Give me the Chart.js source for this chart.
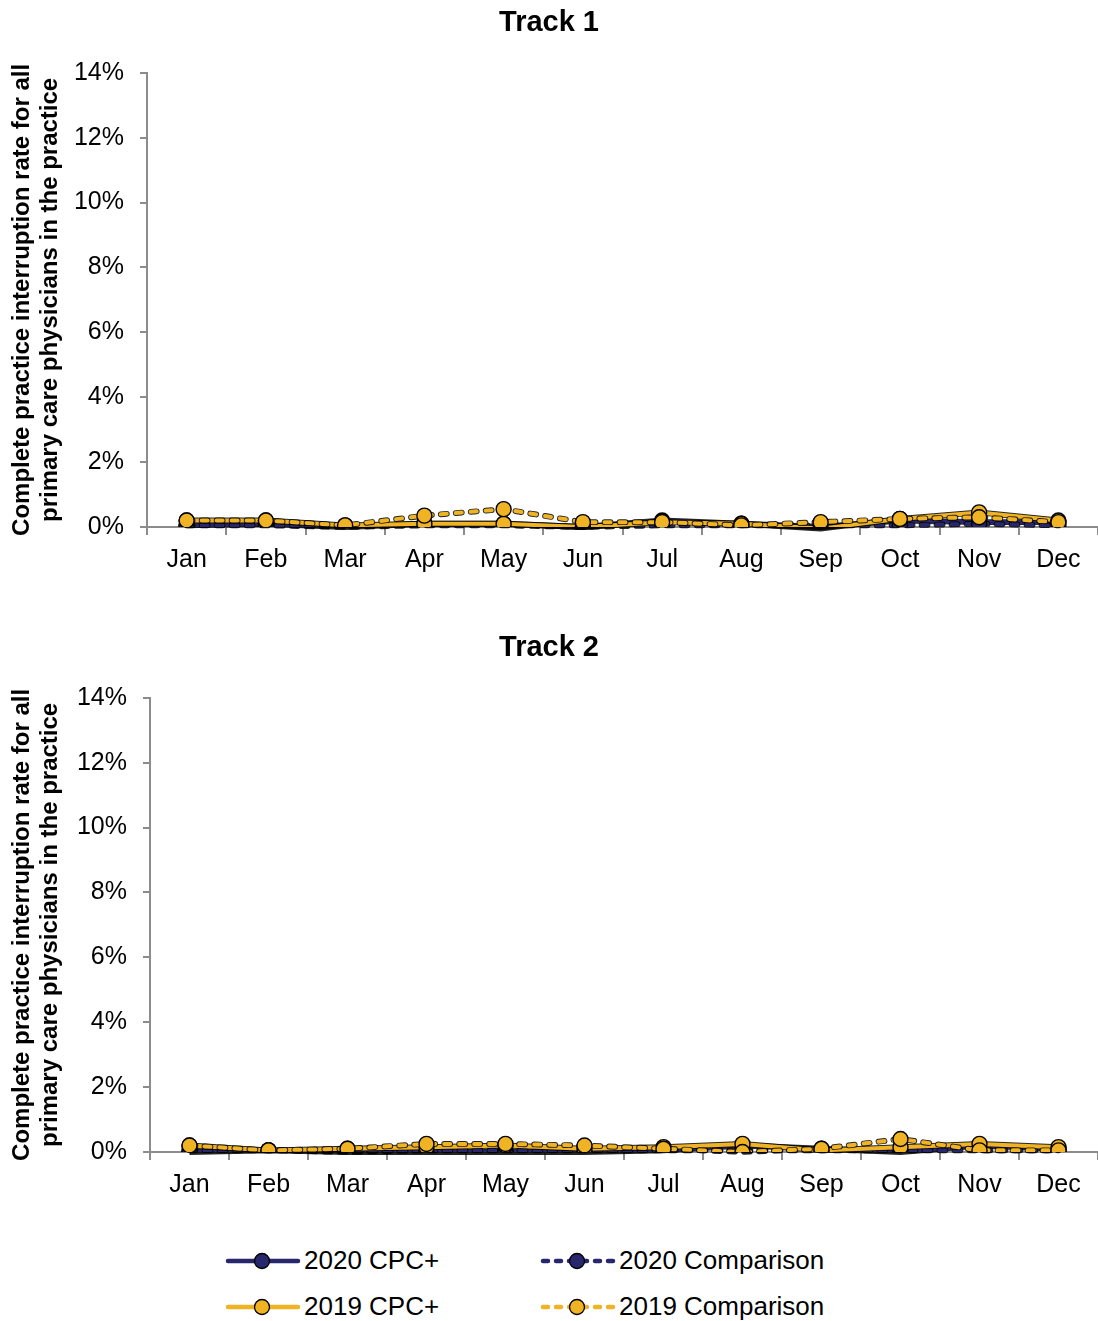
<!DOCTYPE html>
<html>
<head>
<meta charset="utf-8">
<script src="https://cdn.jsdelivr.net/npm/chart.js@4/dist/chart.umd.min.js"></script>
<style>
  body { margin: 0; background: #fff; font-family: "Liberation Sans", Arial, sans-serif; }
  #wrap { position: relative; width: 1098px; height: 1321px; }
  .box { position: absolute; left: 0; width: 1098px; height: 600px; }
  #legend { position: absolute; left: 0; top: 1245px; width: 1098px; }
  .item { position: absolute; display: flex; align-items: center; font-size: 26px; color: #000; }
  .item svg { margin-right: 2px; }
</style>
</head>
<body>
<div id="wrap">
  <div class="box" style="top:0"><canvas id="track1"></canvas></div>
  <div class="box" style="top:625px"><canvas id="track2"></canvas></div>
  <div id="legend"></div>
</div>
<script>
const months = ["Jan", "Feb", "Mar", "Apr", "May", "Jun", "Jul", "Aug", "Sep", "Oct", "Nov", "Dec"];
const yTicks = [0, 2, 4, 6, 8, 10, 12, 14];

// Track 1 (percent)
const t1Cpc2020 = [0.05, 0.1, 0.0, 0.1, 0.1, 0.0, 0.2, 0.1, 0.0, 0.2, 0.15, 0.15];
const t1Comp2020 = [0.05, 0.05, 0.0, 0.05, 0.05, 0.0, 0.05, 0.05, 0.05, 0.05, 0.1, 0.05];
const t1Cpc2019 = [0.2, 0.2, 0.05, 0.1, 0.1, 0.0, 0.15, 0.1, -0.05, 0.25, 0.45, 0.2];
const t1Comp2019 = [0.2, 0.2, 0.05, 0.35, 0.55, 0.15, 0.15, 0.05, 0.15, 0.25, 0.3, 0.15];

// Track 2 (percent)
const t2Cpc2020 = [0.0, 0.05, 0.0, 0.0, 0.0, 0.0, 0.05, 0.2, 0.1, 0.0, 0.2, 0.1];
const t2Comp2020 = [0.05, 0.05, 0.0, 0.05, 0.05, 0.05, 0.05, 0.05, 0.05, 0.05, 0.05, 0.05];
const t2Cpc2019 = [0.2, 0.05, 0.1, 0.15, 0.2, 0.1, 0.15, 0.25, 0.05, 0.15, 0.25, 0.15];
const t2Comp2019 = [0.2, 0.05, 0.1, 0.25, 0.25, 0.2, 0.1, 0.0, 0.1, 0.4, 0.05, 0.05];

const NAVY = "#28266c";
const GOLD = "#f0b323";
const FONT = "'Liberation Sans', Arial, sans-serif";

// dark outline under every line, like the original export
const outlinePlugin = {
    id: "outline",
    beforeDatasetDraw(chart, args) {
        const line = args.meta.dataset;
        if (!line) return;
        const o = line.options;
        const oldColor = o.borderColor, oldWidth = o.borderWidth;
        o.borderColor = "rgba(0,0,0,0.85)";
        o.borderWidth = oldWidth + 1.8;
        line.draw(chart.ctx, chart.chartArea);
        o.borderColor = oldColor;
        o.borderWidth = oldWidth;
    }
};

function series(label, data, color, dashed) {
    return {
        label: label,
        data: data,
        borderColor: color,
        backgroundColor: color,
        borderWidth: 4,
        borderDash: dashed ? [6, 9] : [],
        borderCapStyle: dashed ? "round" : "butt",
        pointRadius: 7.5,
        pointBorderColor: "#000",
        pointBorderWidth: 1.4,
        pointBackgroundColor: color,
        tension: 0
    };
}

function makeChart(id, title, cpc20, comp20, cpc19, comp19, axisLeft) {
    const ctx = document.getElementById(id).getContext("2d");
    return new Chart(ctx, {
        type: "line",
        plugins: [outlinePlugin],
        data: {
            labels: months,
            // first dataset is drawn on top
            datasets: [
                series("2019 Comparison", comp19, GOLD, true),
                series("2019 CPC+", cpc19, GOLD, false),
                series("2020 Comparison", comp20, NAVY, true),
                series("2020 CPC+", cpc20, NAVY, false)
            ]
        },
        options: {
            responsive: false,
            animation: false,
            layout: { autoPadding: false, padding: { left: 0, right: 0, top: 0, bottom: 0 } },
            plugins: {
                legend: { display: false },
                tooltip: { enabled: false },
                title: {
                    display: true,
                    text: title,
                    color: "#000",
                    font: { family: FONT, size: 29, weight: "bold" },
                    padding: { top: 6, bottom: 32 }
                }
            },
            scales: {
                x: {
                    offset: true,
                    afterFit: axis => { axis.height = 63; },
                    grid: { offset: true, drawOnChartArea: false, color: "#8c8c8c", tickLength: 8, lineWidth: 2 },
                    border: { color: "#8c8c8c", width: 2 },
                    ticks: { color: "#000", font: { family: FONT, size: 25 }, padding: 10, maxRotation: 0 }
                },
                y: {
                    min: -0.0001,
                    max: 14,
                    afterBuildTicks: axis => { axis.ticks = yTicks.map(v => ({ value: v })); },
                    afterFit: axis => { axis.width = axisLeft; },
                    grid: { drawOnChartArea: false, color: "#8c8c8c", tickLength: 7, lineWidth: 2 },
                    border: { color: "#8c8c8c", width: 2 },
                    ticks: {
                        color: "#000",
                        font: { family: FONT, size: 25 },
                        padding: 16,
                        callback: v => v + "%"
                    },
                    title: {
                        display: true,
                        text: ["Complete practice interruption rate for all", "primary care physicians in the practice"],
                        color: "#000",
                        font: { family: FONT, size: 24, weight: "bold", lineHeight: 1.17 },
                        padding: { top: 8, bottom: 0 }
                    }
                }
            }
        }
    });
}

function sizeCanvas(id) {
    const c = document.getElementById(id);
    c.width = 1098;
    c.height = 590;
    c.style.width = "1098px";
    c.style.height = "590px";
}
sizeCanvas("track1");
sizeCanvas("track2");

makeChart("track1", "Track 1", t1Cpc2020, t1Comp2020, t1Cpc2019, t1Comp2019, 147);
makeChart("track2", "Track 2", t2Cpc2020, t2Comp2020, t2Cpc2019, t2Comp2019, 150);

// legend, 2 x 2
const legendItems = [
    { label: "2020 CPC+", color: NAVY, dashed: false, x: 224, y: 0 },
    { label: "2020 Comparison", color: NAVY, dashed: true, x: 539, y: 0 },
    { label: "2019 CPC+", color: GOLD, dashed: false, x: 224, y: 46 },
    { label: "2019 Comparison", color: GOLD, dashed: true, x: 539, y: 46 }
];
const legend = document.getElementById("legend");
legendItems.forEach(it => {
    const div = document.createElement("div");
    div.className = "item";
    div.style.left = it.x + "px";
    div.style.top = it.y + "px";
    const dash = it.dashed ? 'stroke-dasharray="5 8" stroke-linecap="round"' : 'stroke-linecap="round"';
    div.innerHTML =
        '<svg width="78" height="26"><line x1="4" y1="13" x2="74" y2="13" stroke="' + it.color +
        '" stroke-width="4.5" ' + dash + '/><circle cx="38" cy="13" r="7.5" fill="' + it.color +
        '" stroke="#000" stroke-width="1.3"/></svg><span>' + it.label + "</span>";
    legend.appendChild(div);
});
</script>
</body>
</html>
